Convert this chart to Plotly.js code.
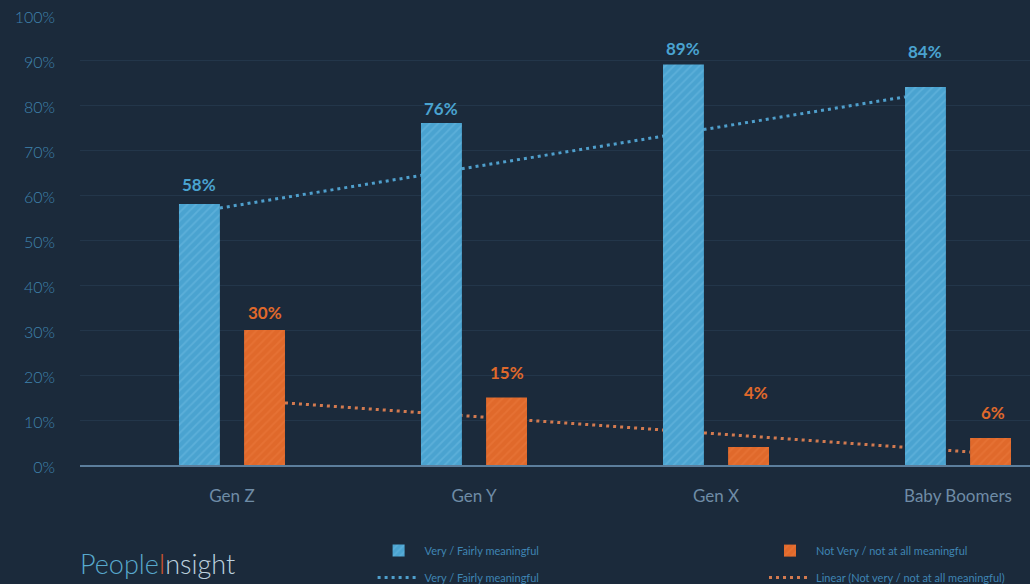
<!DOCTYPE html>
<html>
<head>
<meta charset="utf-8">
<script src="https://cdn.plot.ly/plotly-3.0.1.min.js"></script>
<style>
  html, body { margin: 0; padding: 0; background: #1b2a3b; }
  #chart { width: 1030px; height: 584px; }
</style>
</head>
<body>
<div id="chart"></div>
<script>
// Survey results by generation
const categories = ['Gen Z', 'Gen Y', 'Gen X', 'Baby Boomers'];
const veryMeaningful = [58, 76, 89, 84];
const notMeaningful = [30, 15, 4, 6];
// Trend line values at its first and last point
const trendVery = [57.1, 81.8];
const trendNot = [13.8, 2.9];

// Bar geometry (in category units)
const BAR_W = 0.169;
const GAP = 0.05;
const idx = categories.map((_, i) => i);
const last = categories.length - 1;

const BLUE = '#4aa3d0';
const ORANGE = '#e0692b';
const BG = '#1b2a3b';

// How far each value label sits above its bar, in px
const liftVery = [20, 15, 16, 36];
const liftNot = [18, 25, 55, 26];
const nudgeNot = [0, 0, 7, 2];

const fmt = v => v + '%';

const traces = [
  {
    type: 'scatter', mode: 'lines', name: 'Very / Fairly meaningful',
    x: [0 - GAP, last - GAP - BAR_W], y: trendVery,
    line: { color: '#4f9fcc', width: 3, dash: '3px,4px' },
    hoverinfo: 'skip', legend: 'legend', legendgroup: 'b', legendrank: 2
  },
  {
    type: 'scatter', mode: 'lines', name: 'Linear (Not very / not at all meaningful)',
    x: [0 + GAP + BAR_W, last + GAP], y: trendNot,
    line: { color: '#d27a50', width: 3, dash: '3px,4px' },
    hoverinfo: 'skip', legend: 'legend2', legendgroup: 'd', legendrank: 2
  },
  {
    type: 'bar', name: 'Very / Fairly meaningful',
    x: idx, y: veryMeaningful, xaxis: 'x2', yaxis: 'y2',
    offset: -(GAP + BAR_W), width: BAR_W,
    marker: { color: BLUE, line: { width: 0 },
      pattern: { shape: '/', bgcolor: BLUE, fgcolor: '#6dbbe2', fgopacity: 0.5, size: 6, solidity: 0.3 } },
    hoverinfo: 'skip', legend: 'legend', legendgroup: 'a', legendrank: 1
  },
  {
    type: 'bar', name: 'Not Very / not at all meaningful',
    x: idx, y: notMeaningful, xaxis: 'x2', yaxis: 'y2',
    offset: GAP, width: BAR_W,
    marker: { color: ORANGE, line: { width: 0 },
      pattern: { shape: '/', bgcolor: ORANGE, fgcolor: '#eb7a3e', fgopacity: 0.5, size: 6, solidity: 0.3 } },
    hoverinfo: 'skip', legend: 'legend2', legendgroup: 'c', legendrank: 1
  }
];

const labelFont = (c) => ({ family: 'Lato, "Open Sans", sans-serif', size: 17, color: c, weight: 700 });

const annotations = [];
veryMeaningful.forEach((v, i) => annotations.push({
  x: i - GAP - BAR_W / 2, y: v, xref: 'x', yref: 'y', text: fmt(v),
  showarrow: false, yanchor: 'middle', yshift: liftVery[i], font: labelFont(BLUE)
}));
notMeaningful.forEach((v, i) => annotations.push({
  x: i + GAP + BAR_W / 2, y: v, xref: 'x', yref: 'y', text: fmt(v),
  showarrow: false, yanchor: 'middle', yshift: liftNot[i], xshift: nudgeNot[i], font: labelFont(ORANGE)
}));
annotations.push({
  xref: 'paper', yref: 'paper', x: -0.002, y: -0.218, xanchor: 'left', yanchor: 'middle',
  showarrow: false,
  text: '<span style="color:#58a9cd">People</span><span style="color:#c4532f">I</span><span style="color:#bcd0de">nsight</span>',
  font: { family: 'Lato, sans-serif', size: 27, weight: 300 }
});

const xRange = [-0.628, 3.2975];
const legendBase = {
  orientation: 'v', xref: 'paper', yref: 'paper', yanchor: 'top', y: -0.158,
  bgcolor: 'rgba(0,0,0,0)', itemwidth: 42, tracegroupgap: 8,
  font: { family: 'Lato, sans-serif', size: 11, color: '#3f85b3' }
};

const layout = {
  width: 1030, height: 584,
  margin: { l: 80, r: 0, t: 15, b: 119, autoexpand: false },
  paper_bgcolor: BG, plot_bgcolor: BG,
  showlegend: true,
  barmode: 'overlay',
  xaxis: {
    range: xRange, tickmode: 'array', tickvals: idx, ticktext: categories,
    showgrid: false, zeroline: false, showline: true, linecolor: '#5c7e9c', linewidth: 2,
    ticks: '', ticklabelstandoff: 15,
    tickfont: { family: 'Lato, sans-serif', size: 17, color: '#6f8ca6' }, fixedrange: true
  },
  yaxis: {
    range: [0, 100], dtick: 10, ticksuffix: '%',
    showgrid: true, gridcolor: '#23364a', gridwidth: 1, zeroline: false, showline: false,
    ticks: '', ticklabelstandoff: 24, ticklabelshift: 2,
    tickfont: { family: 'Lato, sans-serif', size: 16, color: '#3f82ad', weight: 300 }, fixedrange: true
  },
  xaxis2: { overlaying: 'x', range: xRange, visible: false, fixedrange: true },
  yaxis2: { overlaying: 'y', range: [0, 100], visible: false, fixedrange: true },
  legend: Object.assign({}, legendBase, { x: 0.308, xanchor: 'left' }),
  legend2: Object.assign({}, legendBase, { x: 0.72, xanchor: 'left' }),
  annotations: annotations
};

Plotly.newPlot('chart', traces, layout, { displayModeBar: false, staticPlot: true });
</script>
</body>
</html>
